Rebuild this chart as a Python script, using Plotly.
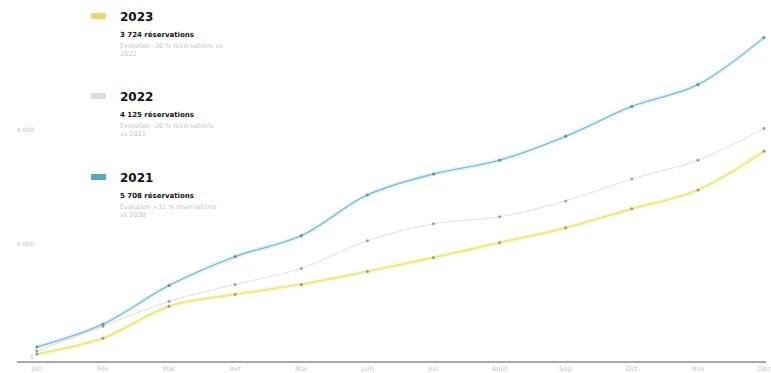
import plotly.graph_objects as go

months = ["Jan", "Fév", "Mar", "Avr", "Mai", "Juin", "Juil", "Août", "Sep", "Oct", "Nov", "Déc"]
y2021 = [246, 649, 1333, 1842, 2210, 2929, 3298, 3543, 3964, 4490, 4876, 5708]
y2022 = [175, 614, 1052, 1351, 1631, 2122, 2421, 2543, 2824, 3210, 3543, 4100]
y2023 = [123, 403, 965, 1175, 1351, 1579, 1824, 2087, 2350, 2684, 3017, 3700]
ytick_vals = [0, 2000, 4000]
ytick_text = ["0", "2 000", "4 000"]

legend_items = [
    ("2023", "3 724 réservations", "Évolution -10 % réservations vs<br>2022", "#ecd774"),
    ("2022", "4 125 réservations", "Évolution -20 % réservations<br>vs 2021", "#dedede"),
    ("2021", "5 708 réservations", "Évolution +31 % réservations<br>vs 2020", "#56a6c4"),
]

x = list(range(len(months)))
fig = go.Figure()

# soft glows
fig.add_trace(go.Scatter(x=x, y=y2021, mode="lines", line=dict(color="rgba(160,220,235,0.25)", width=5, shape="spline"), hoverinfo="skip"))
fig.add_trace(go.Scatter(x=x, y=y2023, mode="lines", line=dict(color="rgba(242,242,160,0.4)", width=5, shape="spline"), hoverinfo="skip"))

fig.add_trace(go.Scatter(x=x, y=y2022, mode="lines+markers", line=dict(color="#e0e0e0", width=1, shape="spline"),
                         marker=dict(color="#a0a0a0", size=3)))
fig.add_trace(go.Scatter(x=x, y=y2023, mode="lines+markers", line=dict(color="#e6e88a", width=1.8, shape="spline"),
                         marker=dict(color="#9a9a88", size=3)))
fig.add_trace(go.Scatter(x=x, y=y2021, mode="lines+markers", line=dict(color="#82bccb", width=1.4, shape="spline"),
                         marker=dict(color="#7a8488", size=3)))

ann = []
shapes = []
tops = [16, 96, 177]
for (yr, tot, evo, col), t in zip(legend_items, tops):
    shapes.append(dict(type="rect", xref="paper", yref="paper", xsizemode="pixel", ysizemode="pixel",
                       xanchor=0, yanchor=1, x0=91 - 17, x1=106 - 17, y0=-t - 3, y1=-t + 3,
                       fillcolor=col, line=dict(width=0), layer="above"))
    ann.append(dict(xref="paper", yref="paper", x=0, y=1, xshift=118 - 17, yshift=-t + 8,
                    xanchor="left", yanchor="top", showarrow=False,
                    text="<b>" + yr + "</b>", font=dict(family="DejaVu Sans", size=12, color="#111111")))
    ann.append(dict(xref="paper", yref="paper", x=0, y=1, xshift=118 - 17, yshift=-t - 13,
                    xanchor="left", yanchor="top", showarrow=False,
                    text="<b>" + tot + "</b>", font=dict(family="DejaVu Sans", size=7, color="#111111")))
    ann.append(dict(xref="paper", yref="paper", x=0, y=1, xshift=118 - 17, yshift=-t - 23,
                    xanchor="left", yanchor="top", showarrow=False, align="left",
                    text=evo, font=dict(family="DejaVu Sans", size=6.5, color="#c4c4c4")))

fig.update_layout(
    width=771, height=373,
    margin=dict(l=17, r=0, t=0, b=10),
    paper_bgcolor="white", plot_bgcolor="white",
    showlegend=False,
    annotations=ann, shapes=shapes,
    xaxis=dict(range=[-0.3, 11.03], tickvals=x, ticktext=months, showgrid=False, zeroline=False,
               showline=True, linecolor="#a8a8a8", linewidth=1.5, ticklabeloverflow="allow",
               tickfont=dict(family="DejaVu Sans", size=7, color="#c8c8c8"), ticklen=0),
    yaxis=dict(range=[0, 6368], tickvals=ytick_vals, ticktext=ytick_text, showgrid=False, zeroline=False,
               ticklabelposition="outside", ticklabelstandoff=-18, ticklabelshift=-4, ticklen=0,
               ticklabeloverflow="allow",
               tickfont=dict(family="DejaVu Sans", size=6, color="#c0c0c0")),
)
fig.write_html("out.html")
